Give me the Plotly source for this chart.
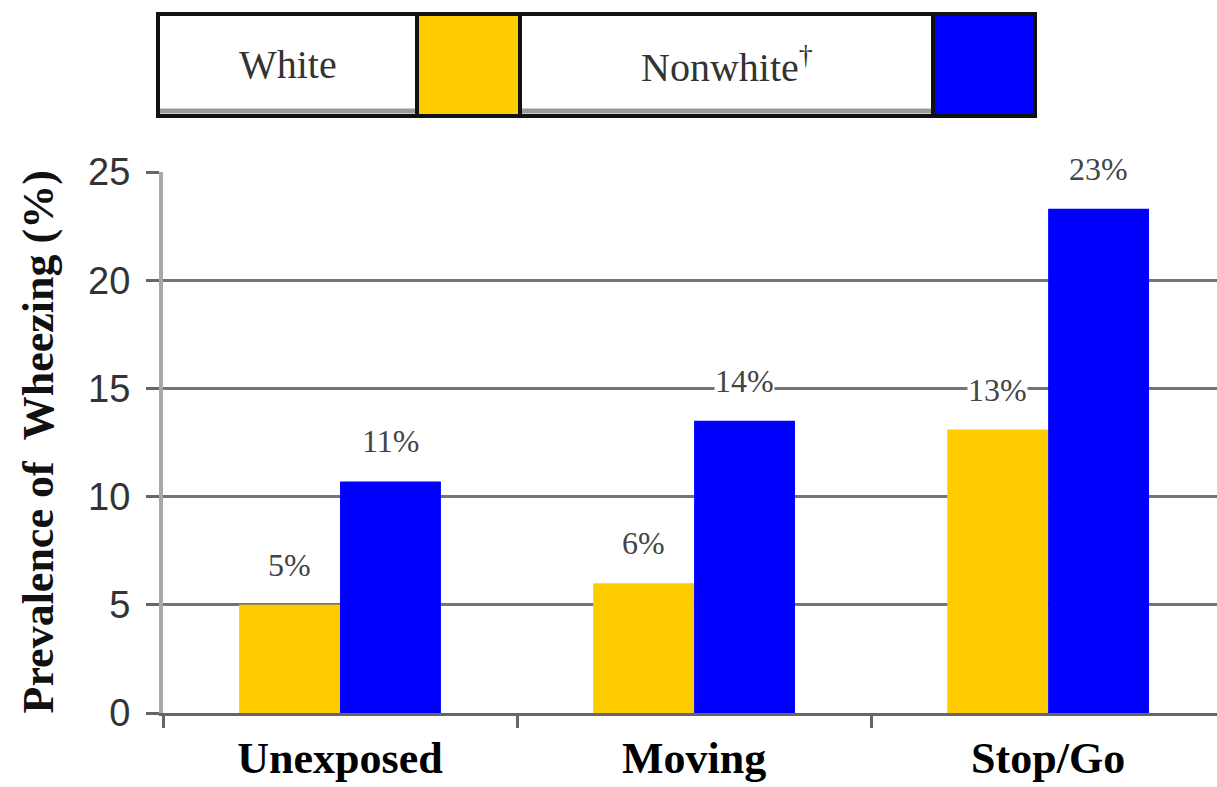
import plotly.graph_objects as go

# Wheezing prevalence by traffic exposure, split by race
categories = ["Unexposed", "Moving", "Stop/Go"]
white_pct = [5.0, 6.0, 13.1]
nonwhite_pct = [10.7, 13.5, 23.3]
series_names = ["White", "Nonwhite<sup>†</sup>"]
series_colors = ["#FFCC00", "#0000FF"]
y_ticks = [0, 5, 10, 15, 20, 25]

W, H = 1217, 787
ML, MR, MT, MB = 163, 0, 172, 74
PW, PH = W - ML - MR, H - MT - MB


def px_x(px):
    return (px - ML) / PW


def px_y(py):
    return (H - MB - py) / PH


fig = go.Figure()
for name, vals, col in zip(series_names, [white_pct, nonwhite_pct], series_colors):
    fig.add_trace(go.Bar(x=categories, y=vals, name=name, marker=dict(color=col, line=dict(width=0))))

# value labels above each bar
bar_px = PW / 2.977 * (1 - 0.43) / 2
label_font = dict(family="Liberation Serif", size=32, color="#444444")
for offs, vals in zip([-bar_px / 2, bar_px / 2], [white_pct, nonwhite_pct]):
    for c, v in zip(categories, vals):
        fig.add_annotation(x=c, y=v, text=f"{v:.0f}%", showarrow=False, xshift=offs, yshift=40,
                           font=label_font, bgcolor="white", borderpad=0)

# y-axis title
fig.add_annotation(xref="paper", yref="paper", x=px_x(38), y=0.5, text="Prevalence of  Wheezing (%)",
                   textangle=-90, showarrow=False, xanchor="center", yanchor="middle",
                   font=dict(family="Liberation Serif", size=44, color="#111111", weight="bold"))

# legend box: text cell, swatch, text cell, swatch
cells = [(158, 417, "white", series_names[0]), (417, 520, series_colors[0], None),
         (520, 933, "white", series_names[1]), (933, 1035, series_colors[1], None)]
top, bot = 14, 116
for x0, x1, fill, label in cells:
    fig.add_shape(type="rect", xref="paper", yref="paper", x0=px_x(x0), x1=px_x(x1), y0=px_y(bot), y1=px_y(top),
                  fillcolor=fill, line=dict(color="#111111", width=4))
    if label:
        fig.add_shape(type="line", xref="paper", yref="paper", x0=px_x(x0 + 2), x1=px_x(x1 - 2),
                      y0=px_y(bot - 5), y1=px_y(bot - 5), line=dict(color="#9a9a9a", width=5))
        fig.add_annotation(xref="paper", yref="paper", x=px_x((x0 + x1) / 2), y=px_y(65), text=label,
                           showarrow=False, xanchor="center", yanchor="middle",
                           font=dict(family="Liberation Serif", size=40, color="#333333"))

fig.update_layout(
    width=W, height=H, margin=dict(l=ML, r=MR, t=MT, b=MB, pad=0),
    paper_bgcolor="white", plot_bgcolor="white", showlegend=False,
    barmode="group", bargap=0.43, bargroupgap=0,
    xaxis=dict(type="category", range=[-0.5, 2.477], tickson="boundaries", ticks="outside", ticklen=12,
               tickwidth=3, tickcolor="#666666", showline=True, linecolor="#666666", linewidth=3,
               showgrid=False, ticklabelstandoff=4,
               tickfont=dict(family="Liberation Serif", size=44, color="#000000", weight="bold")),
    yaxis=dict(range=[0, 25], tickvals=y_ticks, ticks="outside", ticklen=13, tickwidth=3, tickcolor="#666666",
               showline=True, linecolor="#a8a8a8", linewidth=4, showgrid=True, gridcolor="#747474",
               gridwidth=3, zeroline=False, ticklabelstandoff=8,
               tickfont=dict(family="Liberation Sans", size=38, color="#333333")),
)

fig.write_html("out.html")
